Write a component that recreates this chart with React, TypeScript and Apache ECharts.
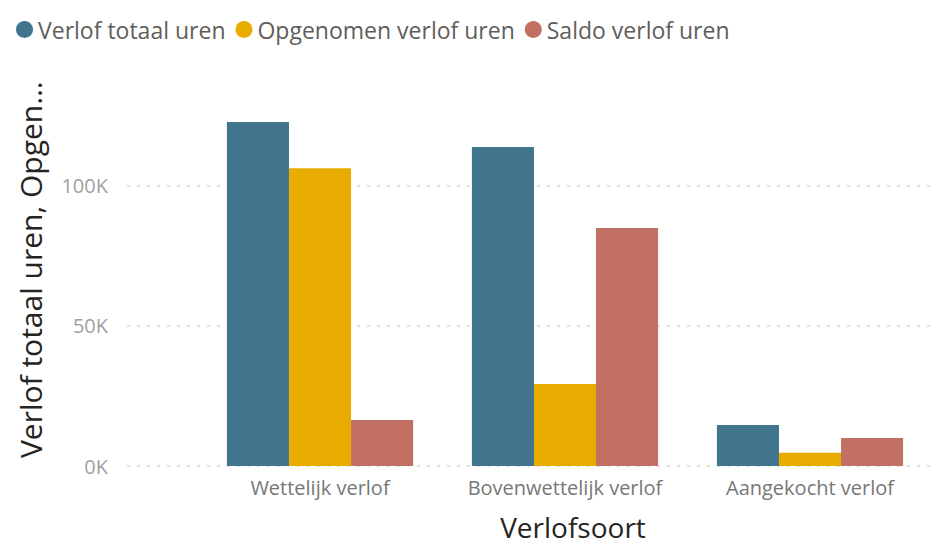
import React, { useEffect, useRef } from "react";
import * as echarts from "echarts";

const categories = ["Wettelijk verlof", "Bovenwettelijk verlof", "Aangekocht verlof"];
const seriesNames = ["Verlof totaal uren", "Opgenomen verlof uren", "Saldo verlof uren"];
const verlofTotaal = [122400, 113500, 14600];
const opgenomen = [106000, 29200, 4700];
const saldo = [16400, 84700, 10000];
const colors = ["#41748d", "#e8ab00", "#c27063"];

const FONT = "'Segoe UI', 'Open Sans', sans-serif";

export default function App() {
  const ref = useRef<HTMLDivElement>(null);
  useEffect(() => {
    if (!ref.current) return;
    const chart = echarts.init(ref.current, undefined, { renderer: "svg" });
    const values = [verlofTotaal, opgenomen, saldo];
    chart.setOption({
      animation: false,
      color: colors,
      textStyle: { fontFamily: FONT },
      legend: {
        left: 11,
        top: 13,
        icon: "circle",
        itemWidth: 17,
        itemHeight: 17,
        itemGap: 10,
        textStyle: { fontSize: 23, color: "#605e5c", fontFamily: FONT },
        data: seriesNames,
      },
      grid: [
        { left: 127, right: 0, top: 185.5, bottom: 80 },
        { left: 197.5, right: 11.5, top: 114.75, bottom: 80 },
      ],
      xAxis: [
        { gridIndex: 0, type: "value", show: false, min: 0, max: 1 },
        {
          gridIndex: 1,
          type: "category",
          data: categories,
          axisLine: { show: false },
          axisTick: { show: false },
          axisLabel: { color: "#777777", fontSize: 20, margin: 11, interval: 0, fontFamily: FONT },
          name: "Verlofsoort",
          nameLocation: "middle",
          nameGap: 47,
          nameTextStyle: { fontSize: 28, color: "#252423", fontFamily: FONT, padding: [0, 0, 0, 16] },
        },
      ],
      yAxis: [
        {
          gridIndex: 0,
          type: "value",
          min: 0,
          max: 100000,
          interval: 50000,
          axisLine: { show: false },
          axisTick: { show: false },
          axisLabel: {
            color: "#a0a0a0",
            fontSize: 20,
            margin: 19,
            fontFamily: FONT,
            formatter: (v: number) => `${v / 1000}K`,
          },
          splitLine: { show: true, lineStyle: { type: [3, 7], color: "#d6d6d6", width: 1.5 } },
          name: "Verlof totaal uren, Opgen…",
          nameLocation: "middle",
          nameGap: 82,
          nameTextStyle: { fontSize: 30, color: "#252423", fontFamily: FONT, padding: [0, 0, 0, 112] },
        },
        {
          gridIndex: 1,
          type: "value",
          min: 0,
          max: 125000,
          show: false,
          splitLine: { show: false },
        },
      ],
      series: values.map((d, i) => ({
        name: seriesNames[i],
        type: "bar",
        xAxisIndex: 1,
        yAxisIndex: 1,
        data: d,
        barGap: "0%",
        barCategoryGap: "24%",
      })),
    });
    return () => chart.dispose();
  }, []);
  return <div ref={ref} style={{ width: 944, height: 546, margin: -8 }} />;
}
